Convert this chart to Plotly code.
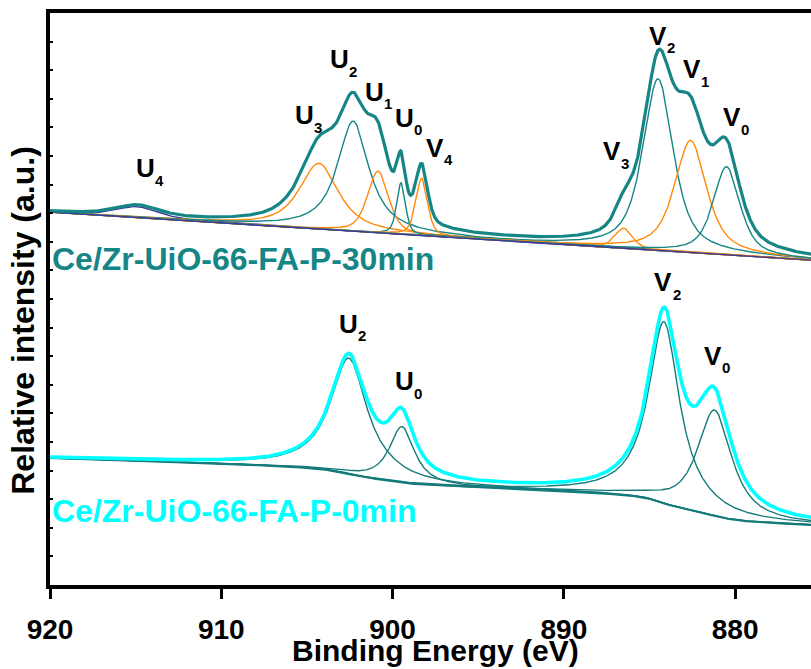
import numpy as np
import plotly.graph_objects as go

# ---------------- data ----------------
# Ce/Zr-UiO-66-FA-P-30min : fitted components (binding energy eV, height a.u., FWHM eV, Lorentzian fraction)
up_names = ["U4", "U3", "U2", "U1", "U0", "V4", "V3", "V2", "V1", "V0"]
up_center = [914.9, 904.3, 902.3, 900.85, 899.5, 898.3, 886.5, 884.5, 882.6, 880.5]
up_height = [0.38, 2.30, 3.85, 2.15, 1.80, 2.00, 0.70, 6.00, 3.92, 3.08]
up_fwhm = [3.0, 2.7, 2.2, 1.45, 0.6, 0.8, 1.2, 2.1, 2.2, 1.85]
up_lor = [0.5, 0.8, 0.95, 0.5, 0.5, 0.5, 0.5, 0.7, 0.7, 0.65]
up_bg_920 = 13.04          # linear background at 920 eV
up_bg_slope = 0.0378       # per eV

# Ce/Zr-UiO-66-FA-P-0min : fitted components
lo_names = ["U2", "U0", "V2", "V0"]
lo_center = [902.55, 899.45, 884.15, 881.2]
lo_height = [4.05, 1.95, 6.35, 3.70]
lo_fwhm = [2.6, 1.75, 2.2, 2.4]
lo_lor = [1.0, 0.9, 1.0, 0.9]
lo_bg_920 = 4.44           # background level at 920 eV
lo_bg_slope = 0.0181       # linear part, per eV
lo_shirley = 1.54          # Shirley step height

x_ticks = [920, 910, 900, 890, 880]
x_range = [920.0, 875.57]

# ---------------- styles ----------------
TEAL = "#168585"
TEAL_DARK = "#157a7a"
ORANGE = "#ff8a0a"
PURPLE = "#3a3a9a"
CYAN = "#00ffff"
up_color = {"U4": PURPLE, "U3": ORANGE, "U2": TEAL, "U1": ORANGE, "U0": TEAL,
            "V4": ORANGE, "V3": ORANGE, "V2": TEAL, "V1": ORANGE, "V0": TEAL}


def pvoigt(x, c, h, w, m):
    d = (x - c) / w
    lor = 1.0 / (1.0 + 4.0 * d * d)
    gau = np.exp(-4.0 * np.log(2.0) * d * d)
    return h * (m * lor + (1.0 - m) * gau)


x = np.linspace(875.0, 920.0, 1801)

fig = go.Figure()

# upper spectrum
bg_up = up_bg_920 - up_bg_slope * (920.0 - x)
env_up = bg_up.copy()
for n, c, h, w, m in zip(up_names, up_center, up_height, up_fwhm, up_lor):
    p = pvoigt(x, c, h, w, m)
    env_up = env_up + p
    fig.add_trace(go.Scatter(x=x, y=bg_up + p, mode="lines", name=n,
                             line=dict(color=up_color[n], width=1.4), showlegend=False))
fig.add_trace(go.Scatter(x=x, y=bg_up, mode="lines", name="bg 30min",
                         line=dict(color=PURPLE, width=1.4), showlegend=False))
fig.add_trace(go.Scatter(x=x, y=env_up, mode="lines", name="30min",
                         line=dict(color=TEAL, width=3.2), showlegend=False))

# lower spectrum (Shirley + linear background)
peaks_lo = [pvoigt(x, c, h, w, m) for c, h, w, m in zip(lo_center, lo_height, lo_fwhm, lo_lor)]
ptot = np.sum(peaks_lo, axis=0)
cum = np.concatenate([[0.0], np.cumsum(0.5 * (ptot[1:] + ptot[:-1]) * np.diff(x))])
frac = cum / cum[-1]
bg_lo = (lo_bg_920 - lo_shirley) - lo_bg_slope * (920.0 - x) + lo_shirley * frac
for n, p in zip(lo_names, peaks_lo):
    fig.add_trace(go.Scatter(x=x, y=bg_lo + p, mode="lines", name=n + " 0min",
                             line=dict(color=TEAL_DARK, width=1.4), showlegend=False))
fig.add_trace(go.Scatter(x=x, y=bg_lo, mode="lines", name="bg 0min",
                         line=dict(color=TEAL_DARK, width=2.0), showlegend=False))
fig.add_trace(go.Scatter(x=x, y=bg_lo + ptot, mode="lines", name="0min",
                         line=dict(color=CYAN, width=3.6), showlegend=False))

FONT = "Arial, Liberation Sans, sans-serif"

# peak labels: (letter, index, x eV, y)
labels = [
    ("U", "4", 914.4, 14.58), ("U", "3", 905.17, 16.43), ("U", "2", 903.07, 18.39),
    ("U", "1", 901.03, 17.24), ("U", "0", 899.28, 16.33), ("V", "4", 897.52, 15.28),
    ("V", "3", 887.19, 15.17), ("V", "2", 884.51, 19.20), ("V", "1", 882.52, 18.04),
    ("V", "0", 880.19, 16.36),
    ("U", "2", 902.6, 9.13), ("U", "0", 899.28, 7.13), ("V", "2", 884.21, 10.59),
    ("V", "0", 881.3, 8.01),
]
ann = []
for L, s, lx, ly in labels:
    ann.append(dict(x=lx, y=ly, xref="x", yref="y", text=L, showarrow=False,
                    font=dict(family=FONT, size=26, color="black", weight="bold"),
                    xanchor="center", yanchor="middle"))
    ann.append(dict(x=lx, y=ly, xref="x", yref="y", text=s, showarrow=False,
                    font=dict(family=FONT, size=15, color="black", weight="bold"),
                    xanchor="center", yanchor="middle", xshift=13.5, yshift=-12))

ann.append(dict(x=0, y=11.4, xref="paper", yref="y", text="Ce/Zr-UiO-66-FA-P-30min",
                showarrow=False, xanchor="left", yanchor="middle", xshift=0,
                font=dict(family=FONT, size=32, color=TEAL, weight="bold")))
ann.append(dict(x=0, y=2.59, xref="paper", yref="y", text="Ce/Zr-UiO-66-FA-P-0min",
                showarrow=False, xanchor="left", yanchor="middle", xshift=0,
                font=dict(family=FONT, size=32, color=CYAN, weight="bold")))
ann.append(dict(x=0, y=0.462, xref="paper", yref="paper", text="Relative intensity (a.u.)",
                showarrow=False, textangle=-90, xanchor="center", yanchor="middle",
                xshift=-27, font=dict(family=FONT, size=32, color="black", weight="bold")))
ann.append(dict(x=0.506, y=-84.0 / 572.0, xref="paper", yref="paper", text="Binding Energy (eV)",
                showarrow=False, xanchor="center", yanchor="bottom",
                font=dict(family=FONT, size=30, color="black", weight="bold")))

fig.update_layout(
    width=811, height=669,
    margin=dict(l=50, r=0, t=13, b=84),
    paper_bgcolor="white", plot_bgcolor="white",
    showlegend=False,
    annotations=ann,
    xaxis=dict(range=x_range, tickvals=x_ticks, ticktext=[str(v) for v in x_ticks],
               ticks="outside", ticklen=10, tickwidth=3, tickcolor="black",
               ticklabelstandoff=7,
               showline=True, linewidth=3.5, linecolor="black", mirror=True,
               showgrid=False, zeroline=False,
               tickfont=dict(family=FONT, size=28, color="black", weight="bold")),
    yaxis=dict(range=[0, 20], tickvals=list(range(0, 21)), ticks="inside", ticklen=3,
               tickwidth=2, tickcolor="black", showticklabels=False,
               showline=True, linewidth=3.5, linecolor="black",
               showgrid=False, zeroline=False),
)

fig.write_html("out.html")
